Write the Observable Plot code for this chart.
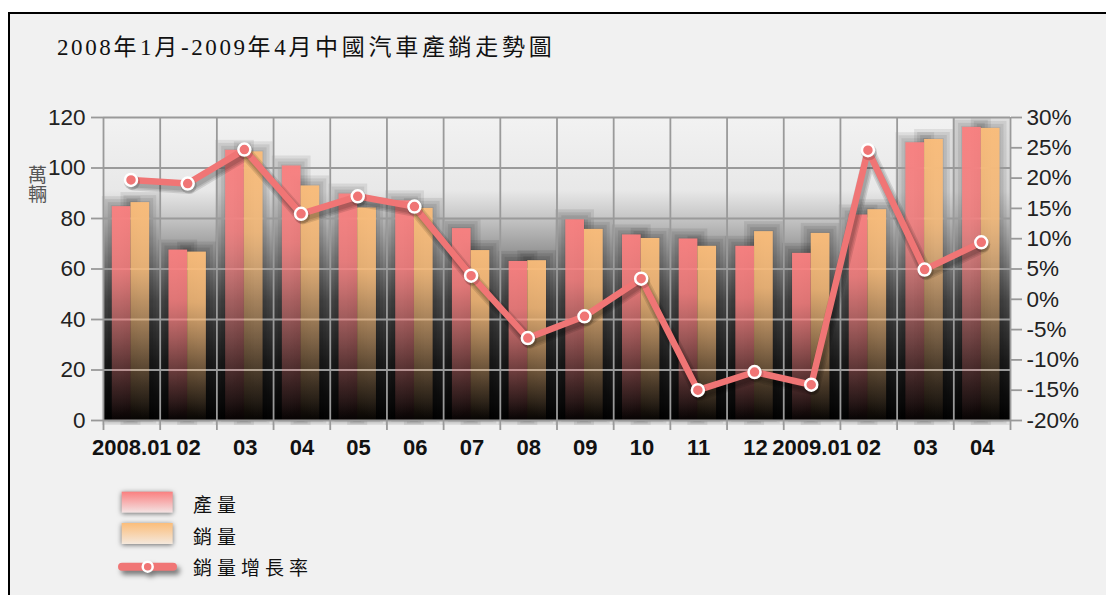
<!DOCTYPE html>
<html><head><meta charset="utf-8">
<script src="https://cdn.jsdelivr.net/npm/d3@7"></script>
<script src="https://cdn.jsdelivr.net/npm/@observablehq/plot@0.6"></script>
<style>
body{margin:0;background:#fff;width:1106px;height:595px;overflow:hidden;position:relative;font-family:"Liberation Sans",Arial,sans-serif;}
#frame{position:absolute;left:8px;top:12px;width:1200px;height:700px;border:2px solid #000;background:#f1f1f1;box-sizing:border-box;}
#chart{position:absolute;left:0;top:0;}
#title{position:absolute;left:57px;top:36px;font-family:"Liberation Serif","Noto Sans CJK TC",serif;font-size:23px;line-height:23px;letter-spacing:3.7px;color:#111;white-space:nowrap;}
#title .n{letter-spacing:2.6px;}
#ylab{position:absolute;left:28px;top:165px;writing-mode:vertical-rl;font-family:"Noto Sans CJK TC",sans-serif;font-size:19px;line-height:19px;color:#555;}
#legend{position:absolute;left:0;top:470px;}
</style></head><body>
<div id="frame"></div>
<div id="chart"></div>
<div id="title"><span class="n">2008</span>年<span class="n">1</span>月<span class="n">-2009</span>年<span class="n">4</span>月中國汽車產銷走勢圖</div>
<div id="ylab">萬輛</div>
<div id="legend"></div>
<script>
// ---- data ----
const labels = ["2008.01","02","03","04","05","06","07","08","09","10","11","12","2009.01","02","03","04"];
const production = [84.7, 67.5, 107.0, 100.8, 89.7, 87.0, 76.0, 63.0, 79.5, 73.5, 71.9, 69.0, 66.2, 81.4, 110.0, 116.1];
const sales      = [86.3, 66.7, 106.4, 92.9, 84.2, 84.0, 67.3, 63.3, 75.7, 72.1, 69.0, 74.8, 74.1, 83.5, 111.3, 115.7];
const growth     = [19.7, 19.1, 24.7, 14.1, 17.0, 15.3, 3.9, -6.4, -2.8, 3.4, -15.0, -12.0, -14.1, 24.6, 4.9, 9.4];
const leftTicks  = [0, 20, 40, 60, 80, 100, 120];
const rightTicks = [-20, -15, -10, -5, 0, 5, 10, 15, 20, 25, 30];
const legendLabels = ["產量", "銷量", "銷量增長率"];

const RED = "#fa8080", ORANGE = "#fbbd7a", LINE = "#f07575";
const pct2y = p => (p + 20) * 120 / 50;   // right axis mapped onto left scale
const y2pct = v => v * 50 / 120 - 20;

const rows = labels.map((l, i) => ({i, label: l, prod: production[i], sales: sales[i], growth: growth[i]}));
const rx1 = d => d.i + 0.155, mid = d => d.i + 0.485, ox2 = d => d.i + 0.815;
const gy = d => pct2y(d.growth);
const FONT = "Liberation Sans, Arial, sans-serif";

// soft shadows drawn as stacked translucent layers (no SVG filters)
const haloLayers = [-10, -7, -4, -1].flatMap(k => [
  Plot.rect(rows, {x1: rx1, x2: mid, y1: () => 0, y2: "prod", insetLeft: k, insetRight: k, insetTop: k, insetBottom: k / 2, fill: "#000", fillOpacity: 0.08}),
  Plot.rect(rows, {x1: mid, x2: ox2, y1: () => 0, y2: "sales", insetLeft: k, insetRight: k, insetTop: k, insetBottom: k / 2, fill: "#000", fillOpacity: 0.08})
]);
const lineShadow = [13, 10, 7].map(w =>
  Plot.line(rows, {x: mid, y: gy, dx: 2, dy: 4, stroke: "#000", strokeOpacity: 0.11, strokeWidth: w, strokeLinejoin: "round"}));

const chart = Plot.plot({
  width: 1106, height: 470,
  marginLeft: 103, marginRight: 96, marginTop: 117, marginBottom: 50,
  x: {type: "linear", domain: [0, 16], axis: null},
  y: {domain: [0, 120], axis: null},
  style: {background: "transparent", fontFamily: FONT},
  marks: [
    Plot.frame({fill: "url(#bgGrad)", stroke: null}),
    ...haloLayers,
    Plot.ruleY(leftTicks, {stroke: "#9a9a9a", strokeWidth: 1.8}),
    Plot.ruleX(d3.range(17), {stroke: "#9a9a9a", strokeWidth: 1.8}),
    Plot.rect(rows, {x1: rx1, x2: mid, y1: () => 0, y2: "prod", fill: "url(#gRed)"}),
    Plot.rect(rows, {x1: mid, x2: ox2, y1: () => 0, y2: "sales", fill: "url(#gOrange)"}),
    ...lineShadow,
    Plot.line(rows, {x: mid, y: gy, stroke: LINE, strokeWidth: 6.5, strokeLinejoin: "round"}),
    Plot.dot(rows, {x: mid, y: gy, r: 8, dx: 1, dy: 2, fill: "#000", fillOpacity: 0.15}),
    Plot.dot(rows, {x: mid, y: gy, r: 6, fill: LINE, stroke: "#fff", strokeWidth: 2.5}),
    Plot.axisY(leftTicks, {anchor: "left", tickSize: 12, tickPadding: 6, stroke: "#999", strokeWidth: 1.8, fill: "#222", fontSize: 22.5, fontFamily: FONT}),
    Plot.axisY(rightTicks.map(pct2y), {anchor: "right", tickSize: 11, tickPadding: 5, tickFormat: v => Math.round(y2pct(v)) + "%", stroke: "#999", strokeWidth: 1.8, fill: "#222", fontSize: 22.5, fontFamily: FONT}),
    Plot.axisX(d3.range(16).map(i => i + 0.5), {anchor: "bottom", tickSize: 0, tickPadding: 19, tickFormat: v => labels[Math.floor(v)], fill: "#111", fontSize: 22, fontWeight: "bold", fontFamily: FONT}),
    Plot.axisX(d3.range(17), {anchor: "bottom", tickSize: 10, tickFormat: () => "", stroke: "#999", strokeWidth: 1.8})
  ]
});

const defs = document.createElementNS("http://www.w3.org/2000/svg", "defs");
defs.innerHTML = `
<linearGradient id="bgGrad" gradientUnits="userSpaceOnUse" x1="0" y1="117" x2="0" y2="420">
  <stop offset="0" stop-color="#f2f2f2"/>
  <stop offset="0.24" stop-color="#e8e8e8"/>
  <stop offset="0.33" stop-color="#c6c6c6"/>
  <stop offset="0.45" stop-color="#939393"/>
  <stop offset="0.6" stop-color="#505050"/>
  <stop offset="0.8" stop-color="#202020"/>
  <stop offset="1" stop-color="#030303"/>
</linearGradient>
<linearGradient id="gRed" x1="0" y1="0" x2="0" y2="1">
  <stop offset="0" stop-color="${RED}" stop-opacity="0.96"/>
  <stop offset="0.3" stop-color="${RED}" stop-opacity="0.86"/>
  <stop offset="1" stop-color="${RED}" stop-opacity="0.03"/>
</linearGradient>
<linearGradient id="gOrange" x1="0" y1="0" x2="0" y2="1">
  <stop offset="0" stop-color="${ORANGE}" stop-opacity="0.96"/>
  <stop offset="0.3" stop-color="${ORANGE}" stop-opacity="0.86"/>
  <stop offset="1" stop-color="${ORANGE}" stop-opacity="0.03"/>
</linearGradient>`;
chart.prepend(defs);
document.getElementById("chart").appendChild(chart);

// ---- legend ----
const lg = d3.select("#legend").append("svg").attr("width", 420).attr("height", 125);
lg.append("defs").html(`
<linearGradient id="lgRed" x1="0" y1="0" x2="0" y2="1"><stop offset="0" stop-color="${RED}"/><stop offset="1" stop-color="#f3e3e3"/></linearGradient>
<linearGradient id="lgOrange" x1="0" y1="0" x2="0" y2="1"><stop offset="0" stop-color="${ORANGE}"/><stop offset="1" stop-color="#f4e8dc"/></linearGradient>`);
const fills = ["url(#lgRed)", "url(#lgOrange)"];
[21.7, 53].forEach((y, k) => {
  lg.append("rect").attr("x", 121.7).attr("y", y).attr("width", 51).attr("height", 21).attr("fill", fills[k])
    .style("filter", "drop-shadow(0px 1px 2.5px rgba(0,0,0,0.55))");
});
const lgLine = lg.append("g").style("filter", "drop-shadow(3px 4px 2.5px rgba(0,0,0,0.5))");
lgLine.append("line").attr("x1", 122).attr("x2", 173).attr("y1", 96.7).attr("y2", 96.7).attr("stroke", LINE).attr("stroke-width", 8).attr("stroke-linecap", "round");
lgLine.append("circle").attr("cx", 147.7).attr("cy", 96.7).attr("r", 5).attr("fill", LINE).attr("stroke", "#fff").attr("stroke-width", 2.5);
[35, 67, 98].forEach((y, k) => {
  lg.append("text").attr("x", 193).attr("y", y).attr("dy", "0.36em")
    .attr("font-family", "Noto Sans CJK TC, sans-serif").attr("font-size", 19).attr("letter-spacing", 5)
    .attr("fill", "#111").text(legendLabels[k]);
});
</script>
</body></html>
